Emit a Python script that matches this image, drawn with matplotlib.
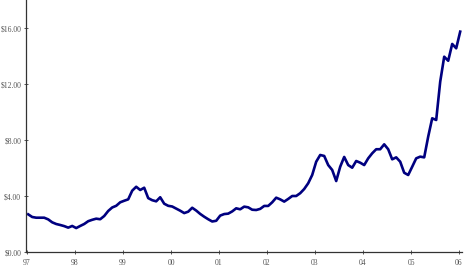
import matplotlib
matplotlib.use("Agg")
import matplotlib.pyplot as plt
import numpy as np

# monthly values, Jan 1997 .. Jan 2006
prices = [2.69, 2.50, 2.45, 2.45, 2.45, 2.33, 2.12, 2.00, 1.93, 1.85,
          1.74, 1.86, 1.71, 1.86, 2.00, 2.20, 2.30, 2.38, 2.34, 2.57,
          2.93, 3.18, 3.30, 3.55, 3.66, 3.76, 4.38, 4.66, 4.43, 4.59,
          3.85, 3.70, 3.62, 3.91, 3.45, 3.30, 3.25, 3.10, 2.95, 2.78,
          2.88, 3.16, 2.96, 2.72, 2.52, 2.34, 2.18, 2.23, 2.60, 2.71,
          2.74, 2.90, 3.12, 3.05, 3.24, 3.19, 3.02, 3.00, 3.08, 3.29,
          3.29, 3.55, 3.88, 3.76, 3.60, 3.79, 4.00, 4.00, 4.20, 4.50,
          4.91, 5.50, 6.45, 6.93, 6.86, 6.21, 5.86, 5.07, 6.09, 6.79,
          6.21, 6.02, 6.50, 6.38, 6.21, 6.69, 7.05, 7.34, 7.34, 7.69,
          7.34, 6.62, 6.76, 6.45, 5.66, 5.50, 6.09, 6.69, 6.81, 6.76,
          8.24, 9.55, 9.43, 12.16, 13.95, 13.66, 14.86, 14.55, 15.74]
years = np.arange(1997, 2007)
year_labels = ['97', '98', '99', '00', '01', '02', '03', '04', '05', '06']
yticks = [0, 4, 8, 12, 16]

x = 1997 + (np.arange(len(prices)) + 0.3) / 12.0

plt.rcParams['font.family'] = ['Liberation Serif', 'DejaVu Serif']

fig = plt.figure(figsize=(4.65, 2.66), dpi=100)
ax = fig.add_axes([26 / 465, 1 - 252 / 266, 436 / 465, 252 / 266])
ax.plot(x, prices, color='#000080', linewidth=1.9, solid_joinstyle='round')

ax.set_xlim(1997 - 1 / 48, 2006 + 3 / 48)
ax.set_ylim(0, 18)
ax.set_xticks(years)
ax.set_xticklabels(year_labels)
ax.set_yticks(yticks)
ax.set_yticklabels(['${:.2f}'.format(v) for v in yticks])

for s in ['top', 'right']:
    ax.spines[s].set_visible(False)
for s in ['left', 'bottom']:
    ax.spines[s].set_color('#333333')
    ax.spines[s].set_linewidth(0.9)
ax.tick_params(axis='both', direction='inout', length=3, width=0.7,
               color='#555555', labelsize=5.5, labelcolor='#555555', pad=2)
ax.tick_params(axis='x', pad=3.5)

fig.savefig('out.png', dpi=100)
